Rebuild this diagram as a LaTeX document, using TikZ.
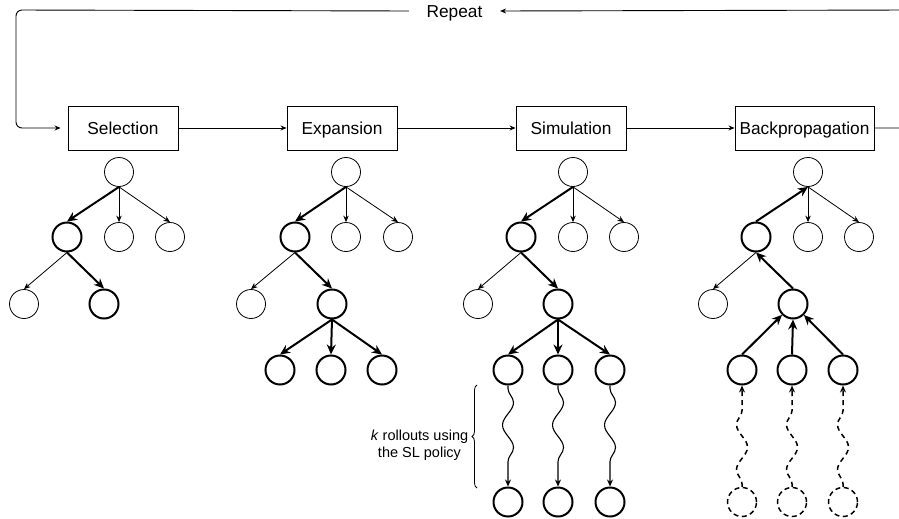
\documentclass[tikz,border=0pt]{standalone}
\usepackage{fontspec}
\setmainfont{Liberation Sans}
\usetikzlibrary{arrows.meta,decorations.pathmorphing,decorations.pathreplacing}
\begin{document}
\begin{tikzpicture}[x=1pt,y=-1pt,
  box/.style={draw, line width=0.9pt, minimum width=110pt, minimum height=44pt, inner sep=0pt, text height=12.4pt, text depth=0pt, font=\fontsize{17.3}{20}\selectfont},
  thinc/.style={circle, draw, line width=0.8pt, minimum size=29pt, inner sep=0pt},
  boldc/.style={circle, draw, line width=2pt, minimum size=29pt, inner sep=0pt},
  ghostc/.style={circle, draw, line width=1.5pt, dash pattern=on 5pt off 3.5pt, minimum size=29pt, inner sep=0pt},
  flow/.style={line width=0.9pt, -{Stealth[length=6pt,width=5pt]}},
  thina/.style={line width=0.8pt, -{Stealth[length=6.5pt,width=5.5pt]}},
  bolda/.style={line width=2pt, -{Stealth[length=10pt,width=9pt]}},
  roll/.style={line width=1.1pt, -{Stealth[length=7pt,width=6pt]}, decorate, decoration={snake, segment length=45pt, amplitude=5.5pt, pre length=3pt, post length=8pt}},
  backroll/.style={line width=1.5pt, dash pattern=on 5pt off 4pt, -{Stealth[length=7pt,width=6pt]}, decorate, decoration={snake, segment length=45pt, amplitude=5.5pt, pre length=3pt, post length=8pt}}
]
\clip (0,0) rectangle (899,519);
\fill[white] (0,0) rectangle (899,519);

% boxes
\node[box] (sel) at (123,128) {Selection};
\node[box] (exp) at (342,128) {Expansion};
\node[box] (sim) at (571,128) {Simulation};
\node[box, minimum width=139pt] (bp) at (804.5,128) {Backpropagation};
\node[inner xsep=17.5pt, inner ysep=2pt, text height=12.4pt, text depth=0pt, font=\fontsize{17.3}{20}\selectfont] (rep) at (454.5,11) {Repeat};
\coordinate (rtop) at (910,10);
\coordinate (rbot) at (910,128);
\coordinate (ltop) at (16,10);
\coordinate (lbot) at (16,128);

\draw[flow] (sel) -- (exp);
\draw[flow] (exp) -- (sim);
\draw[flow] (sim) -- (bp);
\draw[flow] (bp.east) -- (rbot) -- (rtop) -- (rep.east);
\draw[flow, rounded corners=6pt, shorten >=7pt] (rep.west) -- (ltop) -- (lbot) -- (sel.west);

% Selection tree
\node[thinc] (s0) at (119,172) {};
\node[boldc] (s1a) at (67,237) {};
\node[thinc] (s1b) at (119,237) {};
\node[thinc] (s1c) at (170,237) {};
\node[thinc] (s2a) at (24,304) {};
\node[boldc] (s2b) at (104,304) {};
\draw[bolda] (s0.south) -- (s1a.north);
\draw[thina] (s0.south) -- (s1b.north);
\draw[thina] (s0.south) -- (s1c.north);
\draw[thina] (s1a.south) -- (s2a.north);
\draw[bolda] (s1a.south) -- (s2b.north);

% Expansion tree
\node[thinc] (e0) at (346,172) {};
\node[boldc] (e1a) at (295,237) {};
\node[thinc] (e1b) at (346,237) {};
\node[thinc] (e1c) at (398,237) {};
\node[thinc] (e2a) at (251,304) {};
\node[boldc] (e2b) at (332,304) {};
\node[boldc] (e3a) at (280,370) {};
\node[boldc] (e3b) at (331,370) {};
\node[boldc] (e3c) at (382,370) {};
\draw[bolda] (e0.south) -- (e1a.north);
\draw[thina] (e0.south) -- (e1b.north);
\draw[thina] (e0.south) -- (e1c.north);
\draw[thina] (e1a.south) -- (e2a.north);
\draw[bolda] (e1a.south) -- (e2b.north);
\draw[bolda] (e2b.south) -- (e3a.north);
\draw[bolda] (e2b.south) -- (e3b.north);
\draw[bolda] (e2b.south) -- (e3c.north);

% Simulation tree
\node[thinc] (m0) at (573,172) {};
\node[boldc] (m1a) at (521,237) {};
\node[thinc] (m1b) at (573,237) {};
\node[thinc] (m1c) at (624,237) {};
\node[thinc] (m2a) at (478,304) {};
\node[boldc] (m2b) at (558,304) {};
\node[boldc] (m3a) at (508,370) {};
\node[boldc] (m3b) at (558,370) {};
\node[boldc] (m3c) at (610,370) {};
\node[boldc] (m4a) at (508,502) {};
\node[boldc] (m4b) at (558,502) {};
\node[boldc] (m4c) at (610,502) {};
\draw[bolda] (m0.south) -- (m1a.north);
\draw[thina] (m0.south) -- (m1b.north);
\draw[thina] (m0.south) -- (m1c.north);
\draw[thina] (m1a.south) -- (m2a.north);
\draw[bolda] (m1a.south) -- (m2b.north);
\draw[bolda] (m2b.south) -- (m3a.north);
\draw[bolda] (m2b.south) -- (m3b.north);
\draw[bolda] (m2b.south) -- (m3c.north);
\draw[roll] (m3a.south) -- (m4a.north);
\draw[roll] (m3b.south) -- (m4b.north);
\draw[roll] (m3c.south) -- (m4c.north);
\coordinate (brb) at (477,488);
\coordinate (brt) at (477,385);
\draw[line width=0.8pt, decorate, decoration={brace, amplitude=5pt}] (brb) -- (brt);
\node[align=center, font=\fontsize{14.5}{17.5}\selectfont] (lbl) at (419.5,445) {\textit{k} rollouts using\\the SL policy};

% Backpropagation tree
\node[thinc] (b0) at (808,172) {};
\node[boldc] (b1a) at (756,237) {};
\node[thinc] (b1b) at (808,237) {};
\node[thinc] (b1c) at (859,237) {};
\node[thinc] (b2a) at (713,304) {};
\node[boldc] (b2b) at (793,304) {};
\node[boldc] (b3a) at (742,370) {};
\node[boldc] (b3b) at (792,370) {};
\node[boldc] (b3c) at (843,370) {};
\node[ghostc] (b4a) at (742,502) {};
\node[ghostc] (b4b) at (792,502) {};
\node[ghostc] (b4c) at (843,502) {};
\draw[bolda] (b1a.north) -- (b0.south);
\draw[thina] (b0.south) -- (b1b.north);
\draw[thina] (b0.south) -- (b1c.north);
\draw[thina] (b1a.south) -- (b2a.north);
\draw[bolda] (b2b.north) -- (b1a.south);
\draw[bolda] (b3a.north) -- (b2b);
\draw[bolda] (b3b.north) -- (b2b.south);
\draw[bolda] (b3c.north) -- (b2b);
\draw[backroll] (b4a.north) -- (b3a.south);
\draw[backroll] (b4b.north) -- (b3b.south);
\draw[backroll] (b4c.north) -- (b3c.south);
\end{tikzpicture}
\end{document}
